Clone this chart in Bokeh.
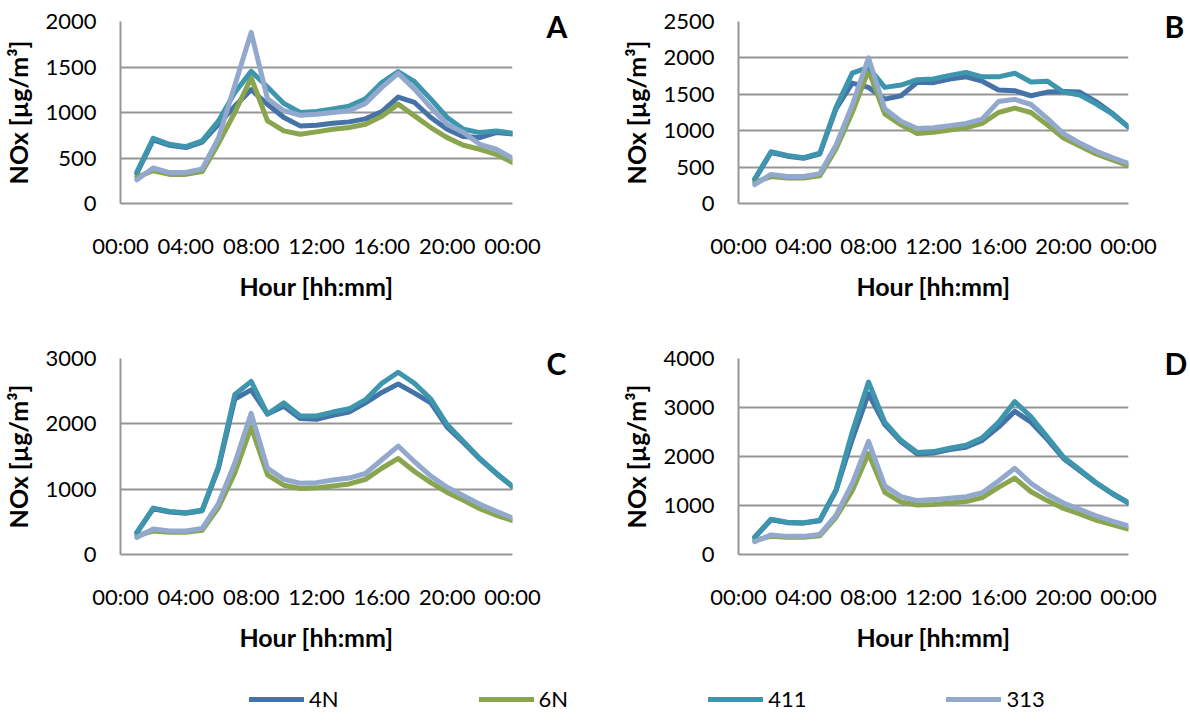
from bokeh.plotting import figure
from bokeh.models import Range1d, FixedTicker, LinearAxis, Legend, LegendItem
from bokeh.layouts import column, row
from bokeh.embed import file_html
from bokeh.resources import INLINE

# ---------------- data ----------------
hours = list(range(1, 25))
tick_hours = [0, 4, 8, 12, 16, 20, 24]
tick_labels = ["00:00", "04:00", "08:00", "12:00", "16:00", "20:00", "00:00"]
series_names = ["4N", "6N", "411", "313"]
series_colors = ["#4572A7", "#89A54E", "#3D96AE", "#92A8CD"]

a_4n = [330, 700, 640, 615, 675, 870, 1070, 1250, 1090, 945, 853, 860, 882, 897, 930, 1010, 1170, 1110, 945, 816, 735, 724, 780, 765]
a_6n = [290, 360, 320, 320, 350, 660, 1000, 1380, 908, 798, 761, 787, 816, 835, 871, 960, 1092, 963, 835, 724, 640, 596, 540, 450]
a_411 = [345, 717, 650, 625, 688, 908, 1220, 1452, 1280, 1100, 1000, 1010, 1040, 1070, 1150, 1330, 1450, 1338, 1147, 945, 816, 779, 798, 772]
a_313 = [260, 390, 340, 340, 380, 720, 1300, 1880, 1150, 1020, 970, 980, 1000, 1020, 1100, 1276, 1430, 1257, 1055, 871, 780, 650, 596, 496]

b_4n = [330, 700, 650, 620, 680, 1300, 1654, 1595, 1434, 1480, 1664, 1660, 1710, 1740, 1680, 1560, 1550, 1480, 1530, 1540, 1530, 1400, 1240, 1050]
b_6n = [290, 370, 350, 350, 380, 750, 1250, 1830, 1230, 1080, 960, 980, 1010, 1040, 1100, 1250, 1310, 1250, 1080, 900, 790, 680, 600, 520]
b_411 = [340, 710, 660, 630, 690, 1320, 1790, 1870, 1595, 1627, 1700, 1710, 1760, 1800, 1740, 1740, 1790, 1670, 1680, 1530, 1490, 1370, 1230, 1050]
b_313 = [260, 400, 370, 370, 410, 800, 1350, 2000, 1300, 1130, 1030, 1040, 1070, 1100, 1160, 1400, 1430, 1360, 1170, 960, 830, 720, 630, 550]

c_4n = [330, 700, 650, 630, 670, 1320, 2380, 2520, 2150, 2270, 2080, 2070, 2130, 2180, 2320, 2480, 2610, 2470, 2320, 1950, 1710, 1460, 1240, 1040]
c_6n = [290, 360, 340, 340, 370, 720, 1250, 1950, 1220, 1060, 1010, 1020, 1050, 1080, 1150, 1320, 1470, 1270, 1100, 950, 830, 700, 600, 520]
c_411 = [340, 710, 660, 640, 680, 1350, 2450, 2650, 2150, 2320, 2120, 2120, 2180, 2230, 2370, 2620, 2790, 2620, 2380, 1990, 1730, 1470, 1250, 1040]
c_313 = [260, 390, 360, 360, 400, 780, 1400, 2160, 1320, 1150, 1090, 1100, 1140, 1170, 1240, 1450, 1660, 1420, 1200, 1030, 900, 770, 660, 560]

d_4n = [350, 710, 650, 640, 690, 1300, 2350, 3280, 2650, 2300, 2050, 2070, 2140, 2190, 2330, 2600, 2920, 2700, 2350, 1960, 1710, 1460, 1240, 1050]
d_6n = [290, 370, 350, 350, 380, 760, 1300, 2060, 1270, 1070, 1010, 1020, 1050, 1080, 1160, 1370, 1560, 1280, 1100, 940, 830, 700, 610, 520]
d_411 = [360, 720, 660, 650, 700, 1320, 2500, 3520, 2700, 2330, 2080, 2100, 2170, 2230, 2380, 2700, 3120, 2810, 2400, 1990, 1730, 1470, 1250, 1060]
d_313 = [260, 400, 370, 370, 410, 800, 1450, 2310, 1400, 1180, 1100, 1120, 1150, 1180, 1260, 1500, 1760, 1450, 1230, 1050, 920, 790, 680, 580]

y_label = "NOx [µg/m³]"
x_label = "Hour [hh:mm]"

GRID = "#969696"
FONT = "Lato"
LINE_W = 5


def make_panel(letter, series, ymax, ystep, bl, br, bt, bb, fw, fh, letter_gap):
    p = figure(frame_width=fw, frame_height=fh,
               min_border_left=bl, min_border_right=br,
               min_border_top=bt, min_border_bottom=bb,
               x_range=Range1d(0, 24), y_range=Range1d(0, ymax),
               output_backend="svg", toolbar_location=None)
    p.outline_line_color = None
    p.background_fill_color = "white"
    p.border_fill_color = "white"

    for vals, color in zip(series, series_colors):
        p.line(hours, vals, line_color=color, line_width=LINE_W,
               line_join="round", line_cap="round")

    yticks = list(range(0, ymax + 1, ystep))
    p.yaxis.ticker = FixedTicker(ticks=yticks)
    p.ygrid.ticker = FixedTicker(ticks=yticks)
    p.xaxis.ticker = FixedTicker(ticks=tick_hours)
    p.xaxis.major_label_overrides = {h: lab for h, lab in zip(tick_hours, tick_labels)}
    p.xgrid.visible = False
    p.ygrid.grid_line_color = GRID
    p.ygrid.grid_line_width = 2

    for ax in (p.xaxis, p.yaxis):
        ax.axis_line_color = GRID
        ax.axis_line_width = 2
        ax.major_tick_in = 0
        ax.major_tick_out = 0
        ax.minor_tick_in = 0
        ax.minor_tick_out = 0
        ax.major_label_text_font = FONT
        ax.major_label_text_font_size = "22px"
        ax.major_label_text_color = "black"
        ax.axis_label_text_font = FONT
        ax.axis_label_text_font_style = "bold"
        ax.axis_label_text_font_size = "25px"
        ax.axis_label_text_color = "black"

    p.xaxis.axis_label = x_label
    p.yaxis.axis_label = y_label
    p.xaxis.major_label_standoff = 28
    p.xaxis.axis_label_standoff = 9
    p.yaxis.major_label_standoff = 24
    p.yaxis.axis_label_standoff = 9

    # panel letter as the single label of an invisible right-hand axis
    p.extra_y_ranges = {"letter": Range1d(0, 1)}
    lax = LinearAxis(y_range_name="letter", ticker=FixedTicker(ticks=[0.978]),
                     major_label_overrides={0.978: letter},
                     axis_line_color=None, major_tick_in=0, major_tick_out=0,
                     minor_tick_in=0, minor_tick_out=0,
                     major_label_standoff=letter_gap,
                     major_label_text_font=FONT,
                     major_label_text_font_style="bold",
                     major_label_text_font_size="30px",
                     major_label_text_color="black")
    p.add_layout(lax, "right")
    return p


pA = make_panel("A", [a_4n, a_6n, a_411, a_313], 2000, 500, 116, 92, 21, 127, 392, 182, 34)
pB = make_panel("B", [b_4n, b_6n, b_411, b_313], 2500, 500, 134, 57, 21, 127, 390, 182, 36)
pC = make_panel("C", [c_4n, c_6n, c_411, c_313], 3000, 1000, 116, 92, 28, 121, 392, 196, 34)
pD = make_panel("D", [d_4n, d_6n, d_411, d_313], 4000, 1000, 134, 57, 28, 121, 390, 196, 36)

# legend strip: lines drawn from the data but outside the visible range
pL = figure(width=1181, height=36, x_axis_location=None, y_axis_location=None,
            min_border=0, output_backend="svg", toolbar_location=None,
            x_range=Range1d(-100, -99), y_range=Range1d(-100, -99))
pL.outline_line_color = None
pL.xgrid.visible = False
pL.ygrid.visible = False
items = []
for name, vals, color in zip(series_names, [d_4n, d_6n, d_411, d_313], series_colors):
    r = pL.line(hours, vals, line_color=color, line_width=LINE_W, line_cap="round")
    items.append(LegendItem(label=name, renderers=[r]))
legend = Legend(items=items, orientation="horizontal", location=(249, -1),
                spacing=140, glyph_width=55, glyph_height=22, label_height=22,
                label_standoff=5,
                padding=0, margin=0, border_line_color=None,
                background_fill_alpha=0, label_text_font=FONT,
                label_text_font_size="22px", label_text_color="black")
pL.add_layout(legend, "center")

layout = column(row(pA, pB), row(pC, pD), pL)

open("out.html", "w").write(file_html(layout, INLINE))
